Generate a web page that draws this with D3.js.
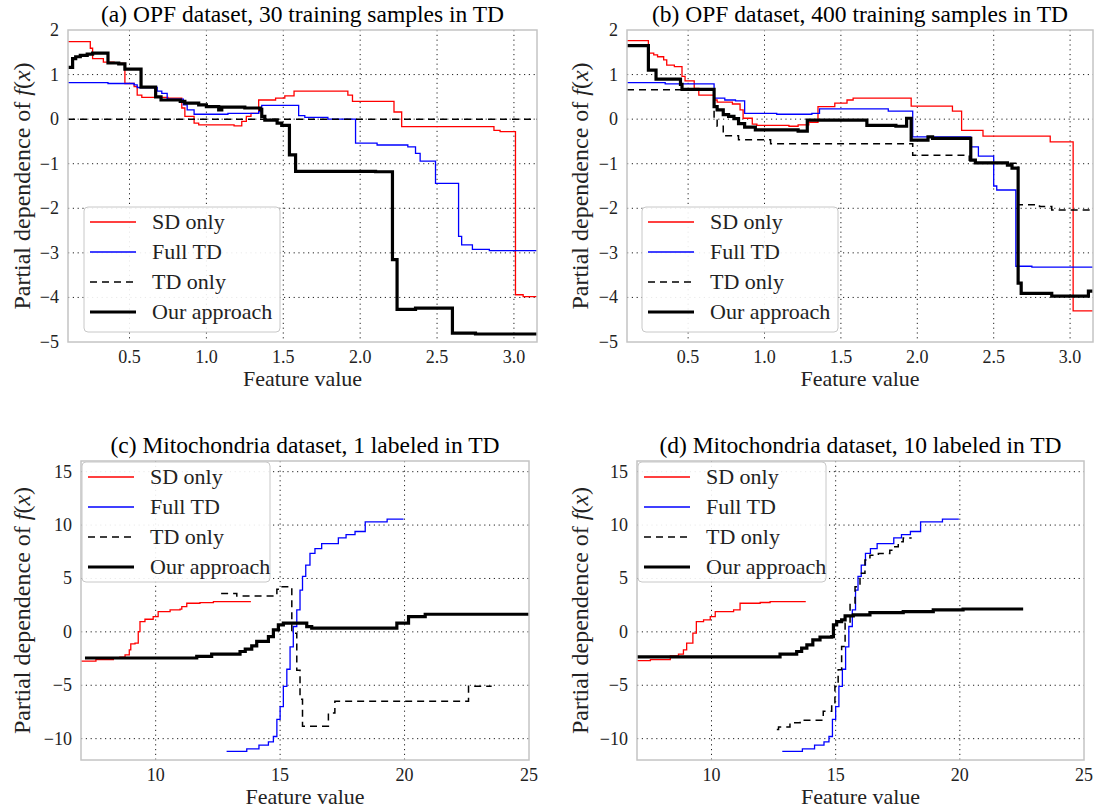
<!DOCTYPE html>
<html>
<head>
<meta charset="utf-8">
<script src="https://cdn.jsdelivr.net/npm/d3@7"></script>
<style>
  body { margin: 0; background: #fff; }
  svg text { font-family: "Liberation Serif", "DejaVu Serif", serif; }
</style>
</head>
<body>
<div id="chart"></div>
<script>
const width = 1094;
const height = 808;
const fontFamily = '"Liberation Serif", "DejaVu Serif", serif';

// ---- data ----
const seriesNames = ['SD only', 'Full TD', 'TD only', 'Our approach'];
const titles = [
    '(a) OPF dataset, 30 training samples in TD',
    '(b) OPF dataset, 400 training samples in TD',
    '(c) Mitochondria dataset, 1 labeled in TD',
    '(d) Mitochondria dataset, 10 labeled in TD'
];
const opfXTicks = [0.5, 1.0, 1.5, 2.0, 2.5, 3.0];
const opfYTicks = [-5, -4, -3, -2, -1, 0, 1, 2];
const mitoXTicks = [10, 15, 20, 25];
const mitoYTicks = [-10, -5, 0, 5, 10, 15];

// (a) OPF, 30 samples
const aSdX = [0.1, 0.245, 0.26, 0.33, 0.40, 0.47, 0.53, 0.55, 0.58, 0.75, 0.84, 0.86, 0.92, 0.95, 1.18, 1.23, 1.26, 1.29, 1.34, 1.45, 1.51, 1.57, 1.92, 1.95, 2.22, 2.27, 2.87, 2.91, 3.01, 3.06, 3.15];
const aSdY = [1.74, 1.59, 1.36, 1.28, 1.25, 0.80, 0.73, 0.54, 0.49, 0.47, 0.25, 0.06, -0.09, -0.13, -0.15, -0.05, 0.06, 0.13, 0.43, 0.47, 0.52, 0.63, 0.54, 0.40, 0.16, -0.17, -0.25, -0.28, -3.94, -3.98, -3.98];
const aFullX = [0.1, 0.36, 0.53, 0.55, 0.68, 0.71, 0.745, 0.85, 0.875, 0.92, 1.14, 1.34, 1.36, 1.60, 1.64, 1.79, 1.97, 2.11, 2.31, 2.36, 2.39, 2.49, 2.64, 2.66, 2.73, 2.84, 3.15];
const aFullY = [0.82, 0.80, 0.77, 0.71, 0.63, 0.58, 0.45, 0.32, 0.21, 0.11, 0.13, 0.17, 0.31, 0.08, 0.04, 0.0, -0.54, -0.58, -0.62, -0.77, -0.94, -1.44, -2.63, -2.82, -2.92, -2.95, -2.95];
const aTdX = [0.1, 3.15];
const aTdY = [0, 0];
const aOursX = [0.1, 0.13, 0.15, 0.18, 0.225, 0.26, 0.36, 0.43, 0.47, 0.575, 0.67, 0.705, 0.83, 0.86, 0.95, 1.00, 1.08, 1.10, 1.25, 1.35, 1.36, 1.38, 1.46, 1.49, 1.54, 1.58, 2.10, 2.21, 2.24, 2.36, 2.60, 2.75, 3.15];
const aOursY = [1.16, 1.36, 1.40, 1.43, 1.46, 1.48, 1.26, 1.24, 1.12, 0.72, 0.50, 0.43, 0.40, 0.36, 0.32, 0.28, 0.21, 0.27, 0.25, 0.22, 0.06, -0.02, -0.09, -0.14, -0.80, -1.17, -1.18, -3.15, -4.27, -4.24, -4.80, -4.82, -4.82];

// (b) OPF, 400 samples
const bSdX = [0.1, 0.24, 0.275, 0.30, 0.34, 0.36, 0.41, 0.46, 0.48, 0.54, 0.57, 0.67, 0.69, 0.79, 0.84, 0.86, 0.92, 0.95, 1.16, 1.22, 1.29, 1.35, 1.46, 1.54, 1.58, 1.96, 2.23, 2.29, 2.43, 2.87, 3.02, 3.15];
const bSdY = [1.76, 1.48, 1.44, 1.40, 1.33, 1.21, 1.18, 0.96, 0.86, 0.69, 0.54, 0.43, 0.38, 0.34, 0.21, 0.02, -0.11, -0.14, -0.16, -0.13, -0.07, 0.28, 0.36, 0.43, 0.47, 0.29, 0.18, -0.25, -0.38, -0.51, -4.30, -4.30];
const bFullX = [0.1, 0.35, 0.67, 0.74, 0.81, 0.87, 1.08, 1.31, 1.36, 1.81, 1.97, 2.35, 2.40, 2.50, 2.52, 2.645, 2.75, 3.15];
const bFullY = [0.82, 0.79, 0.47, 0.43, 0.41, 0.13, 0.11, 0.13, 0.23, 0.18, -0.40, -0.62, -0.83, -1.50, -1.59, -3.30, -3.32, -3.32];
const bTdX = [0.1, 0.67, 0.69, 0.73, 0.83, 1.04, 1.97, 2.34, 2.38, 2.66, 2.80, 2.88, 3.15];
const bTdY = [0.66, 0.02, -0.16, -0.37, -0.46, -0.55, -0.81, -0.92, -0.99, -1.92, -1.96, -2.04, -2.04];
const bOursX = [0.1, 0.24, 0.29, 0.45, 0.46, 0.67, 0.69, 0.73, 0.765, 0.80, 0.83, 0.87, 0.94, 1.22, 1.28, 1.67, 1.86, 1.93, 1.96, 2.07, 2.10, 2.35, 2.38, 2.59, 2.62, 2.66, 2.68, 2.88, 3.12, 3.15];
const bOursY = [1.65, 1.10, 0.90, 0.78, 0.67, 0.28, 0.21, 0.10, 0.06, 0.01, -0.10, -0.18, -0.24, -0.27, -0.02, -0.14, -0.16, 0.02, -0.47, -0.40, -0.43, -0.92, -0.98, -1.03, -1.10, -3.68, -3.91, -3.97, -3.86, -3.86];

// Full TD curve is the same in (c) and (d)
const mitoFullX = [12.85, 13.66, 14.15, 14.53, 14.73, 14.87, 15.0, 15.13, 15.27, 15.4, 15.53, 15.67, 15.8, 15.9, 16.03, 16.2, 16.4, 16.67, 17.34, 17.65, 18.01, 18.42, 19.3, 19.96];
const mitoFullY = [-11.2, -10.95, -10.6, -10.3, -9.8, -8.2, -7.0, -5.1, -3.5, -1.4, 0.5, 2.05, 3.9, 5.2, 6.25, 7.35, 7.8, 8.27, 8.8, 9.1, 9.4, 10.3, 10.55, 10.55];

// (c) Mitochondria, 1 labeled
const cSdX = [7.0, 7.6, 8.3, 8.56, 8.77, 8.94, 9.0, 9.17, 9.30, 9.37, 9.57, 9.90, 10.1, 10.58, 10.98, 11.05, 11.25, 11.78, 12.32, 13.8];
const cSdY = [-2.75, -2.6, -2.45, -2.36, -2.15, -1.68, -1.12, -1.05, 0.03, 0.96, 1.18, 1.43, 1.89, 2.05, 2.12, 2.36, 2.68, 2.73, 2.83, 2.77];
const cTdX = [12.63, 13.26, 14.87, 15.0, 15.47, 15.67, 15.8, 15.9, 16.94, 17.2, 22.57, 23.5];
const cTdY = [3.6, 3.36, 3.98, 4.22, -0.12, -3.6, -6.3, -8.83, -7.6, -6.5, -5.1, -5.1];
const cOursX = [7.16, 11.65, 12.25, 13.39, 13.6, 13.86, 14.06, 14.53, 14.73, 14.93, 15.13, 16.07, 16.27, 19.69, 20.16, 20.83, 25];
const cOursY = [-2.45, -2.3, -2.08, -1.84, -1.62, -1.31, -0.9, -0.44, 0.19, 0.65, 0.81, 0.49, 0.35, 0.81, 1.43, 1.65, 1.65];

// (d) Mitochondria, 10 labeled
const dSdX = [7.0, 7.54, 8.34, 8.67, 8.87, 9.0, 9.25, 9.39, 9.68, 9.95, 10.15, 10.89, 11.15, 11.96, 12.36, 13.77];
const dSdY = [-2.7, -2.6, -2.24, -2.08, -1.68, -1.05, -0.12, 0.96, 1.12, 1.43, 1.89, 2.05, 2.68, 2.75, 2.83, 2.77];
const dTdX = [12.63, 12.7, 13.16, 13.57, 14.5, 14.84, 14.97, 15.1, 15.24, 15.38, 15.58, 15.78, 15.98, 16.18, 16.38, 16.72, 17.18, 17.38, 17.52, 17.72, 18.06];
const dTdY = [-9.14, -8.9, -8.5, -8.27, -7.43, -6.65, -5.1, -3.54, -1.37, 0.81, 2.68, 4.23, 5.48, 6.72, 7.18, 7.34, 7.65, 7.96, 8.43, 8.8, 8.8];
const dOursX = [7.0, 12.76, 13.43, 13.63, 13.84, 14.08, 14.37, 14.84, 14.91, 15.04, 15.24, 15.38, 15.71, 16.38, 17.72, 18.93, 20.13, 22.55];
const dOursY = [-2.35, -2.08, -1.84, -1.52, -1.21, -0.75, -0.5, -0.44, 0.65, 0.96, 1.12, 1.49, 1.59, 1.8, 1.89, 2.05, 2.14, 2.14];

// ---- styling ----
const styles = [
    { color: '#ff0000', width: 1.3, dash: null },
    { color: '#0000ff', width: 1.3, dash: null },
    { color: '#000000', width: 1.5, dash: '7,5' },
    { color: '#000000', width: 3.2, dash: null }
];

const zip = (xs, ys) => xs.map((x, i) => [x, ys[i]]);

const panels = [
    {
        title: titles[0], box: { left: 68, right: 537, top: 30, bottom: 342 },
        xDomain: [0.1, 3.15], yDomain: [-5, 2], xTicks: opfXTicks, yTicks: opfYTicks,
        xFmt: d3.format('.1f'), yLabelX: 22,
        legend: { x: 84, y: 207, w: 196, h: 125 },
        series: [zip(aSdX, aSdY), zip(aFullX, aFullY), zip(aTdX, aTdY), zip(aOursX, aOursY)]
    },
    {
        title: titles[1], box: { left: 627, right: 1093, top: 30, bottom: 342 },
        xDomain: [0.1, 3.15], yDomain: [-5, 2], xTicks: opfXTicks, yTicks: opfYTicks,
        xFmt: d3.format('.1f'), yLabelX: 580,
        legend: { x: 642, y: 207, w: 196, h: 125 },
        series: [zip(bSdX, bSdY), zip(bFullX, bFullY), zip(bTdX, bTdY), zip(bOursX, bOursY)]
    },
    {
        title: titles[2], box: { left: 81, right: 529, top: 461, bottom: 760 },
        xDomain: [7, 25], yDomain: [-12, 16], xTicks: mitoXTicks, yTicks: mitoYTicks,
        xFmt: d3.format('d'), yLabelX: 22,
        legend: { x: 82, y: 462, w: 188, h: 120 },
        series: [zip(cSdX, cSdY), zip(mitoFullX, mitoFullY), zip(cTdX, cTdY), zip(cOursX, cOursY)]
    },
    {
        title: titles[3], box: { left: 637, right: 1084, top: 461, bottom: 760 },
        xDomain: [7, 25], yDomain: [-12, 16], xTicks: mitoXTicks, yTicks: mitoYTicks,
        xFmt: d3.format('d'), yLabelX: 580,
        legend: { x: 638, y: 462, w: 188, h: 120 },
        series: [zip(dSdX, dSdY), zip(mitoFullX, mitoFullY), zip(dTdX, dTdY), zip(dOursX, dOursY)]
    }
];

const svg = d3.select('#chart')
    .append('svg')
    .attr('width', width)
    .attr('height', height)
    .attr('font-family', fontFamily);

const yFmt = d3.format('d');

panels.forEach((p, pi) => {
    const { left, right, top, bottom } = p.box;
    const x = d3.scaleLinear().domain(p.xDomain).range([left, right]);
    const y = d3.scaleLinear().domain(p.yDomain).range([bottom, top]);
    const g = svg.append('g');

    const clipId = 'clip' + pi;
    g.append('clipPath').attr('id', clipId)
        .append('rect')
        .attr('x', left).attr('y', top)
        .attr('width', right - left).attr('height', bottom - top);

    // grid (dotted)
    const grid = g.append('g')
        .attr('stroke', '#222')
        .attr('stroke-width', 1)
        .attr('stroke-dasharray', '1.2,3.6');
    grid.selectAll('line.gx')
        .data(p.xTicks.filter(t => t > p.xDomain[0] && t < p.xDomain[1]))
        .join('line')
        .attr('x1', d => x(d)).attr('x2', d => x(d))
        .attr('y1', top).attr('y2', bottom);
    grid.selectAll('line.gy')
        .data(p.yTicks.filter(t => t > p.yDomain[0] && t < p.yDomain[1]))
        .join('line')
        .attr('class', 'gy')
        .attr('x1', left).attr('x2', right)
        .attr('y1', d => y(d)).attr('y2', d => y(d));

    // series
    const line = d3.line()
        .x(d => x(d[0]))
        .y(d => y(d[1]))
        .curve(d3.curveStepAfter);
    const lines = g.append('g').attr('clip-path', `url(#${clipId})`);
    p.series.forEach((pts, si) => {
        const st = styles[si];
        lines.append('path')
            .datum(pts)
            .attr('d', line)
            .attr('fill', 'none')
            .attr('stroke', st.color)
            .attr('stroke-width', st.width)
            .attr('stroke-dasharray', st.dash)
            .attr('stroke-linejoin', 'miter');
    });

    // frame
    g.append('rect')
        .attr('x', left).attr('y', top)
        .attr('width', right - left).attr('height', bottom - top)
        .attr('fill', 'none')
        .attr('stroke', '#c4c4c4')
        .attr('stroke-width', 1.5);

    // tick labels
    g.append('g').selectAll('text')
        .data(p.xTicks)
        .join('text')
        .attr('x', d => x(d))
        .attr('y', bottom + 21)
        .attr('text-anchor', 'middle')
        .attr('font-size', 18)
        .attr('fill', '#222')
        .text(d => p.xFmt(d));
    g.append('g').selectAll('text')
        .data(p.yTicks)
        .join('text')
        .attr('x', left - 9)
        .attr('y', d => y(d) + 6)
        .attr('text-anchor', 'end')
        .attr('font-size', 18)
        .attr('fill', '#222')
        .text(d => yFmt(d));

    // axis labels & title
    g.append('text')
        .attr('x', (left + right) / 2)
        .attr('y', bottom + 44)
        .attr('text-anchor', 'middle')
        .attr('font-size', 22)
        .attr('fill', '#222')
        .text('Feature value');

    const yl = g.append('text')
        .attr('transform', `translate(${p.yLabelX},${(top + bottom) / 2}) rotate(-90)`)
        .attr('text-anchor', 'middle')
        .attr('dy', '0.35em')
        .attr('font-size', 24)
        .attr('fill', '#222');
    yl.append('tspan').text('Partial dependence of ');
    yl.append('tspan').attr('font-style', 'italic').text('f');
    yl.append('tspan').text('(');
    yl.append('tspan').attr('font-style', 'italic').text('x');
    yl.append('tspan').text(')');

    g.append('text')
        .attr('x', (left + right) / 2)
        .attr('y', top - 8)
        .attr('text-anchor', 'middle')
        .attr('font-size', 23.5)
        .attr('fill', '#000')
        .text(p.title);

    // legend
    const L = p.legend;
    const lg = g.append('g');
    lg.append('rect')
        .attr('x', L.x).attr('y', L.y)
        .attr('width', L.w).attr('height', L.h)
        .attr('rx', 4)
        .attr('fill', '#fff')
        .attr('fill-opacity', 0.9)
        .attr('stroke', '#c8c8c8')
        .attr('stroke-width', 1);
    seriesNames.forEach((name, i) => {
        const st = styles[i];
        const cy = L.y + 15 + i * 30;
        lg.append('line')
            .attr('x1', L.x + 6).attr('x2', L.x + 52)
            .attr('y1', cy).attr('y2', cy)
            .attr('stroke', st.color)
            .attr('stroke-width', st.width)
            .attr('stroke-dasharray', st.dash);
        lg.append('text')
            .attr('x', L.x + 68)
            .attr('y', cy + 7)
            .attr('font-size', 22)
            .attr('fill', '#222')
            .text(name);
    });
});
</script>
</body>
</html>
